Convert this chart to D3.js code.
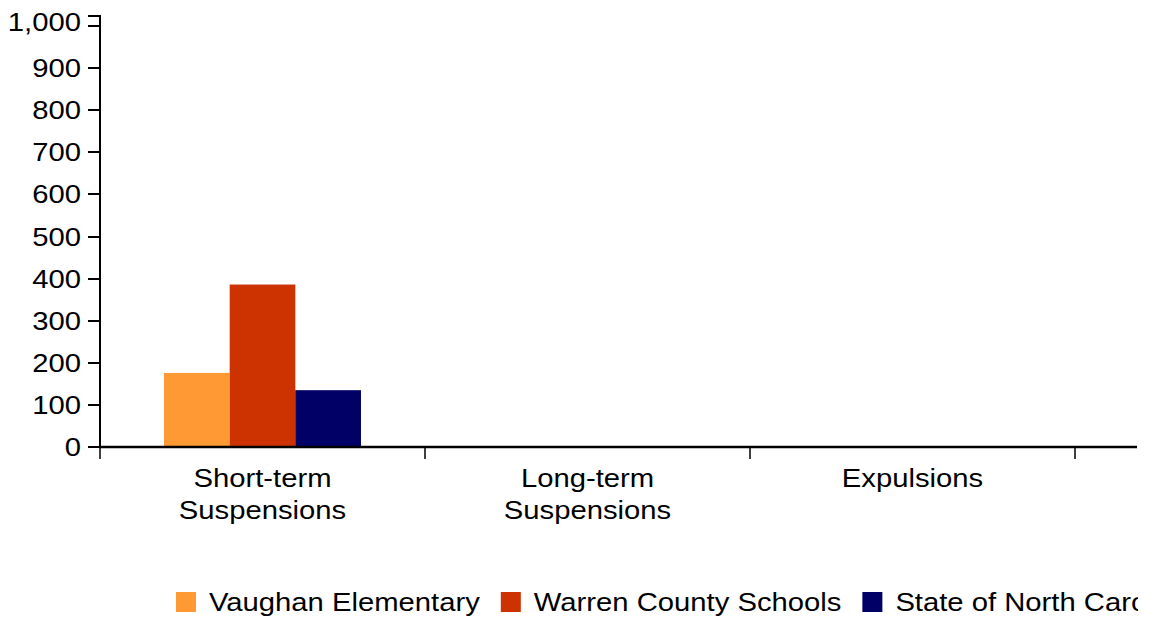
<!DOCTYPE html>
<html>
<head>
<meta charset="utf-8">
<script src="https://cdn.jsdelivr.net/npm/d3@7"></script>
<style>
  html, body { margin: 0; padding: 0; background: #fff; }
  svg { display: block; }
  text { font-family: "Liberation Sans", Arial, sans-serif; fill: #000; }
</style>
</head>
<body>
<svg id="chart" width="1138" height="619"></svg>
<script>
const categories = [["Short-term", "Suspensions"], ["Long-term", "Suspensions"], ["Expulsions"]];
const seriesNames = ["Vaughan Elementary", "Warren County Schools", "State of North Carolina"];
const seriesColors = ["#FF9933", "#CC3300", "#000066"];
const vaughan = [176, 0, 0];
const warren = [386, 0, 0];
const northCarolina = [135, 0, 0];
const yTicks = [0, 100, 200, 300, 400, 500, 600, 700, 800, 900, 1000];
const seriesValues = [vaughan, warren, northCarolina];

const svg = d3.select("#chart");
const SX = 1.17;          // horizontal stretch of the glyphs
const FS = 25;            // font size

const left = 100, axisY = 447;
const x0 = d3.scaleBand().domain(d3.range(categories.length)).range([left, 1075]).padding(0);
const x1 = d3.scaleBand().domain(d3.range(seriesNames.length))
  .range([x0.bandwidth() * 0.197, x0.bandwidth() * 0.803]).padding(0);
const y = d3.scaleLinear().domain([0, 1024]).range([axisY, 16]);

// bars
const g = svg.append("g");
categories.forEach((c, ci) => {
  seriesValues.forEach((vals, si) => {
    const v = vals[ci];
    if (v <= 0) return;
    g.append("rect")
      .attr("x", x0(ci) + x1(si))
      .attr("y", y(v))
      .attr("width", x1.bandwidth())
      .attr("height", y(0) - y(v))
      .attr("fill", seriesColors[si]);
  });
});

// y axis
const yAxis = svg.append("g").attr("transform", `translate(${left},0)`);
yAxis.append("path")
  .attr("d", `M-12,${y.range()[1]}H0V${axisY}`)
  .attr("fill", "none").attr("stroke", "#000").attr("stroke-width", 2);
yTicks.forEach(t => {
  yAxis.append("line").attr("x1", -12).attr("x2", 0)
    .attr("y1", Math.round(y(t))).attr("y2", Math.round(y(t)))
    .attr("stroke", "#000").attr("stroke-width", 2);
  yAxis.append("text")
    .attr("transform", `translate(-19,${y(t) + 9 - (t === 1000 ? 4 : 0)}) scale(${SX},1)`)
    .attr("text-anchor", "end")
    .attr("font-size", FS)
    .text(d3.format(",")(t));
});

// x axis
const xAxis = svg.append("g");
xAxis.append("line").attr("x1", left - 1).attr("x2", 1137)
  .attr("y1", axisY).attr("y2", axisY)
  .attr("stroke", "#000").attr("stroke-width", 2.5);
const tickXs = categories.map((c, i) => x0(i)).concat([x0.range()[1]]);
tickXs.forEach(tx => {
  xAxis.append("line").attr("x1", tx).attr("x2", tx)
    .attr("y1", axisY).attr("y2", axisY + 12)
    .attr("stroke", "#000").attr("stroke-width", 1.5);
});
categories.forEach((lines, i) => {
  const cx = x0(i) + x0.bandwidth() / 2;
  lines.forEach((ln, li) => {
    xAxis.append("text")
      .attr("transform", `translate(${cx},${487 + li * 32}) scale(${SX},1)`)
      .attr("text-anchor", "middle")
      .attr("font-size", FS)
      .text(ln);
  });
});

// legend
const legend = svg.append("g");
let lx = 176;
seriesNames.forEach((name, i) => {
  legend.append("rect").attr("x", lx).attr("y", 592).attr("width", 20).attr("height", 20)
    .attr("fill", seriesColors[i]);
  const t = legend.append("text")
    .attr("transform", `translate(${lx + 33},${611}) scale(${SX},1)`)
    .attr("font-size", FS)
    .text(name);
  const w = t.node().getComputedTextLength() * SX;
  lx += 33 + w + 21;
});
</script>
</body>
</html>
